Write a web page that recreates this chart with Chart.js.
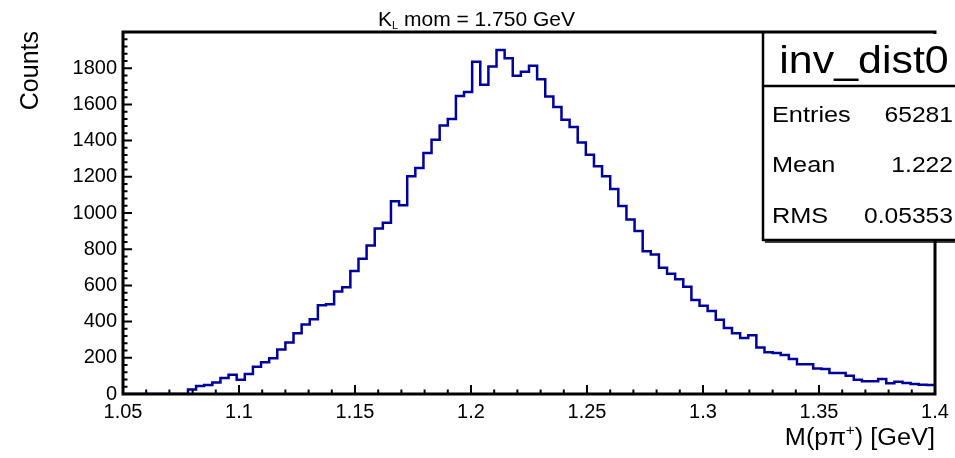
<!DOCTYPE html>
<html>
<head>
<meta charset="utf-8">
<script src="https://cdn.jsdelivr.net/npm/chart.js@4.4.1/dist/chart.umd.min.js"></script>
<style>
  html, body { margin: 0; padding: 0; background: #ffffff; }
  #wrap { width: 955px; height: 458px; }
</style>
</head>
<body>
<div id="wrap"><canvas id="c" width="955" height="458"></canvas></div>
<script>
// ---- data ----
const histName = "inv_dist0";
const xMin = 1.05;
const xMax = 1.4;
const binWidth = 0.0035;
const counts = [
  0, 0, 0, 0, 0, 0, 0, 0, 25, 44,
  50, 64, 88, 106, 79, 110, 150, 175, 198, 246,
  285, 336, 384, 413, 490, 496, 566, 590, 679, 747,
  821, 915, 946, 1065, 1043, 1203, 1249, 1332, 1405, 1484,
  1519, 1647, 1669, 1836, 1708, 1809, 1901, 1855, 1758, 1781,
  1813, 1739, 1644, 1585, 1515, 1475, 1390, 1322, 1258, 1203,
  1133, 1038, 964, 900, 788, 771, 698, 665, 634, 593,
  520, 487, 459, 410, 364, 336, 309, 325, 257, 230,
  226, 215, 193, 165, 165, 141, 138, 116, 116, 101,
  79, 70, 70, 83, 59, 68, 61, 55, 51, 50
];
const xTickValues = [1.05, 1.1, 1.15, 1.2, 1.25, 1.3, 1.35, 1.4];
const xTickLabels = ["1.05", "1.1", "1.15", "1.2", "1.25", "1.3", "1.35", "1.4"];
const yTickValues = [0, 200, 400, 600, 800, 1000, 1200, 1400, 1600, 1800];
const yTickLabels = ["0", "200", "400", "600", "800", "1000", "1200", "1400", "1600", "1800"];
const yMax = 2000;
const statLabels = ["Entries", "Mean", "RMS"];
const statValues = ["65281", "1.222", "0.05353"];
const titleMain = "K";
const titleSub = "L";
const titleRest = " mom = 1.750 GeV";
const yTitle = "Counts";

// histogram outline points: low edge of each bin, plus the upper edge of the last bin
const points = counts.map((c, i) => ({ x: xMin + i * binWidth, y: c }));
points.push({ x: xMax, y: counts[counts.length - 1] });

const FONT = '"Liberation Sans", Arial, Helvetica, sans-serif';

function sText(ctx, text, x, y, size, align, sx) {
  ctx.save();
  ctx.font = size + 'px ' + FONT;
  ctx.translate(x, y);
  ctx.scale(sx, 1);
  ctx.textAlign = align;
  ctx.textBaseline = 'alphabetic';
  ctx.fillStyle = '#000';
  ctx.fillText(text, 0, 0);
  ctx.restore();
}

const rootPlugin = {
  id: 'rootDecor',
  afterDatasetsDraw(chart) {
    const ctx = chart.ctx;
    const a = chart.chartArea;
    const xs = chart.scales.x, ys = chart.scales.y;
    ctx.save();
    ctx.strokeStyle = '#000';
    ctx.lineCap = 'butt';
    // inward ticks on bottom axis
    ctx.lineWidth = 2;
    ctx.beginPath();
    for (let k = 0; k <= 35; k++) {
      const v = xMin + k * 0.01;
      const px = xs.getPixelForValue(v);
      const len = (k % 5 === 0) ? 9 : 4.5;
      ctx.moveTo(px, a.bottom);
      ctx.lineTo(px, a.bottom - len);
    }
    // inward ticks on left axis
    for (let k = 0; k * 40 <= yMax; k++) {
      const py = ys.getPixelForValue(k * 40);
      const len = (k % 5 === 0) ? 9 : 4.5;
      ctx.moveTo(a.left, py);
      ctx.lineTo(a.left + len, py);
    }
    ctx.stroke();
    // frame
    ctx.lineWidth = 3;
    ctx.strokeRect(a.left, a.top, a.right - a.left, a.bottom - a.top);

    // stats box
    const bx = 763, by = 34, bb = 240, sep = 86;
    ctx.fillStyle = '#fff';
    ctx.fillRect(bx, by, 960 - bx, bb - by);
    ctx.lineWidth = 2.5;
    ctx.beginPath();
    ctx.moveTo(bx, a.top); ctx.lineTo(bx, bb);
    ctx.lineTo(960, bb);
    ctx.moveTo(bx, sep); ctx.lineTo(960, sep);
    ctx.stroke();
    ctx.lineWidth = 1.5;
    ctx.beginPath();
    ctx.moveTo(bx + 2, bb + 2); ctx.lineTo(960, bb + 2);
    ctx.stroke();

    sText(ctx, histName, 864, 73, 39, 'center', 1.1);
    const rowsY = [121.5, 171.5, 222.5];
    for (let i = 0; i < statLabels.length; i++) {
      sText(ctx, statLabels[i], 772, rowsY[i], 22, 'left', 1.15);
      sText(ctx, statValues[i], 953, rowsY[i], 22, 'right', 1.12);
    }

    // title K_L mom = 1.750 GeV
    ctx.fillStyle = '#000';
    ctx.textBaseline = 'alphabetic';
    ctx.textAlign = 'left';
    let tx = 378;
    const tb = 26;
    ctx.font = '21px ' + FONT;
    ctx.fillText(titleMain, tx, tb);
    tx += ctx.measureText(titleMain).width;
    ctx.font = '11px ' + FONT;
    ctx.fillText(titleSub, tx, tb + 3);
    tx += ctx.measureText(titleSub).width;
    ctx.font = '21px ' + FONT;
    ctx.fillText(titleRest, tx, tb);

    // x axis title, right aligned at the axis end
    const sx = 1.1;
    ctx.font = '23px ' + FONT;
    const p1 = 'M(p', p2 = '\u03C0', p4 = ') [GeV]';
    const w1 = ctx.measureText(p1).width, w2 = ctx.measureText(p2).width, w4 = ctx.measureText(p4).width;
    ctx.font = '14px ' + FONT;
    const w3 = ctx.measureText('+').width;
    const total = (w1 + w2 + w3 + w4) * sx;
    let cx = a.right - total;
    const xb = 445;
    sText(ctx, p1, cx, xb, 23, 'left', sx); cx += w1 * sx;
    sText(ctx, p2, cx, xb, 23, 'left', sx); cx += w2 * sx;
    sText(ctx, '+', cx, xb - 10, 14, 'left', sx); cx += w3 * sx;
    sText(ctx, p4, cx, xb, 23, 'left', sx);

    // y axis title (rotated), aligned with top of the axis
    ctx.save();
    ctx.translate(38, 31);
    ctx.rotate(-Math.PI / 2);
    ctx.font = '25px ' + FONT;
    ctx.textAlign = 'right';
    ctx.fillStyle = '#000';
    ctx.fillText(yTitle, 0, 0);
    ctx.restore();

    ctx.restore();
  }
};

new Chart(document.getElementById('c'), {
  type: 'line',
  data: {
    datasets: [{
      label: histName,
      data: points,
      stepped: true,
      borderColor: '#00009e',
      borderWidth: 2.5,
      pointRadius: 0,
      fill: false,
      tension: 0
    }]
  },
  options: {
    responsive: false,
    animation: false,
    events: [],
    layout: { padding: { top: 32, right: 20, left: 0, bottom: 0 } },
    plugins: { legend: { display: false }, tooltip: { enabled: false }, title: { display: false } },
    scales: {
      x: {
        type: 'linear',
        min: xMin,
        max: xMax,
        grid: { display: false, drawTicks: false },
        border: { display: false },
        afterBuildTicks(scale) { scale.ticks = xTickValues.map(v => ({ value: v })); },
        afterFit(scale) { scale.height = 64; },
        ticks: {
          color: '#000',
          font: { family: FONT, size: 20 },
          padding: 6,
          maxRotation: 0,
          autoSkip: false,
          callback: (v, i) => xTickLabels[i]
        }
      },
      y: {
        type: 'linear',
        min: 0,
        max: yMax,
        grid: { display: false, drawTicks: false },
        border: { display: false },
        afterBuildTicks(scale) { scale.ticks = yTickValues.map(v => ({ value: v })); },
        afterFit(scale) { scale.width = 123; },
        ticks: {
          color: '#000',
          font: { family: FONT, size: 20 },
          padding: 6,
          autoSkip: false,
          callback: (v, i) => yTickLabels[i]
        }
      }
    }
  },
  plugins: [rootPlugin]
});
</script>
</body>
</html>
